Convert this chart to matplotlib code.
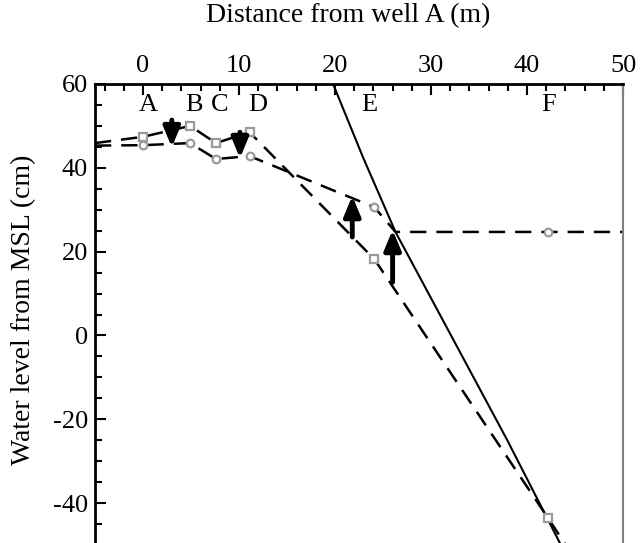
import matplotlib
matplotlib.use("Agg")
import matplotlib.pyplot as plt
from matplotlib.ticker import MultipleLocator

plt.rcParams['font.family'] = ['Liberation Serif', 'DejaVu Serif']
plt.rcParams['axes.unicode_minus'] = False

# Well positions and labels
well_labels = ['A', 'B', 'C', 'D', 'E', 'F']
label_x = [0.5, 5.3, 8.0, 11.9, 23.6, 42.2]
label_y = 55.0

well_x = [0.0, 4.9, 7.6, 11.1, 24.1, 42.2]
level_sq = [47.4, 50.0, 45.9, 48.5, 18.2, -43.6]   # square markers
level_ci = [45.4, 45.9, 42.1, 42.8, 30.6, 24.7]   # circle markers

# dashed interpretation lines
sq_line_x = [-5, 0.0, 4.9, 7.6, 11.1, 24.1, 42.2, 44.6]
sq_line_y = [45.9, 47.4, 50.0, 45.9, 48.5, 18.2, -43.6, -52.0]
ci_line_x = [-5, 0.0, 4.9, 7.6, 11.1, 24.1, 26.3, 50.0]
ci_line_y = [45.3, 45.4, 45.9, 42.1, 42.8, 30.6, 24.7, 24.7]

# solid line
solid_x = [19.8, 22.9, 26.3, 37.9, 43.4, 44.5]
solid_y = [60.0, 42.6, 24.7, -24.8, -49.4, -54.0]

# arrows: x, y_start, y_end
arrows_x = [3.0, 10.1, 21.8, 26.0]
arrows_y0 = [51.4, 48.5, 23.5, 12.7]
arrows_y1 = [44.9, 42.3, 33.3, 25.2]

fig = plt.figure(figsize=(6.42, 5.43), dpi=100)
ax = fig.add_axes([95/642, (543-545)/543, 528/642, 461/543])
ax.set_xlim(-5, 50)
ax.set_ylim(-50, 60)

dash = (0, (6.5, 4))
ax.plot(sq_line_x, sq_line_y, color='black', lw=1.8, linestyle=dash, zorder=2)
ax.plot(ci_line_x, ci_line_y, color='black', lw=1.8, linestyle=dash, zorder=2)
ax.plot(solid_x, solid_y, color='black', lw=1.5, zorder=2)

ax.plot(well_x, level_sq, linestyle='none', marker='s', ms=6, mfc='white',
        mec='#9a9a9a', mew=1.6, zorder=4)
ax.plot(well_x, level_ci, linestyle='none', marker='o', ms=5.5, mfc='white',
        mec='#9a9a9a', mew=1.6, zorder=4)

for x, y0, y1 in zip(arrows_x, arrows_y0, arrows_y1):
    ax.annotate('', xy=(x, y1), xytext=(x, y0),
                arrowprops=dict(arrowstyle='-|>,head_length=0.6,head_width=0.25',
                                color='black', lw=3.5, mutation_scale=20,
                                shrinkA=0, shrinkB=0), zorder=5)

for lab, lx in zip(well_labels, label_x):
    ax.text(lx, label_y, lab, ha='center', va='center', fontsize=19)

ax.xaxis.set_major_locator(MultipleLocator(10))
ax.xaxis.set_minor_locator(MultipleLocator(2))
ax.yaxis.set_major_locator(MultipleLocator(20))
ax.yaxis.set_minor_locator(MultipleLocator(5))
ax.xaxis.tick_top()
ax.xaxis.set_label_position('top')
ax.tick_params(axis='x', which='both', direction='in', top=True, bottom=False,
               labeltop=True, labelbottom=False, labelsize=19, width=1.5, pad=5)
ax.tick_params(axis='y', which='both', direction='in', left=True, right=False,
               labelsize=19, width=1.5, pad=5)
ax.tick_params(which='major', length=8)
ax.tick_params(which='minor', length=5)

ax.spines['top'].set_linewidth(2)
ax.spines['left'].set_linewidth(2)
ax.spines['right'].set_color('#808080')
ax.spines['right'].set_linewidth(1.5)
ax.spines['bottom'].set_color('#808080')
ax.spines['bottom'].set_linewidth(1.5)

ax.set_xlabel('Distance from well A (m)', fontsize=20)
ax.xaxis.set_label_coords((348 - 95) / 528, (545 - 16) / 461)
ax.xaxis.label.set_va('center')
ax.set_ylabel('Water level from MSL (cm)', fontsize=20)
ax.yaxis.set_label_coords((24 - 95) / 528, (545 - 310) / 461)
ax.yaxis.label.set_va('center')

fig.savefig('out.png', dpi=100)
